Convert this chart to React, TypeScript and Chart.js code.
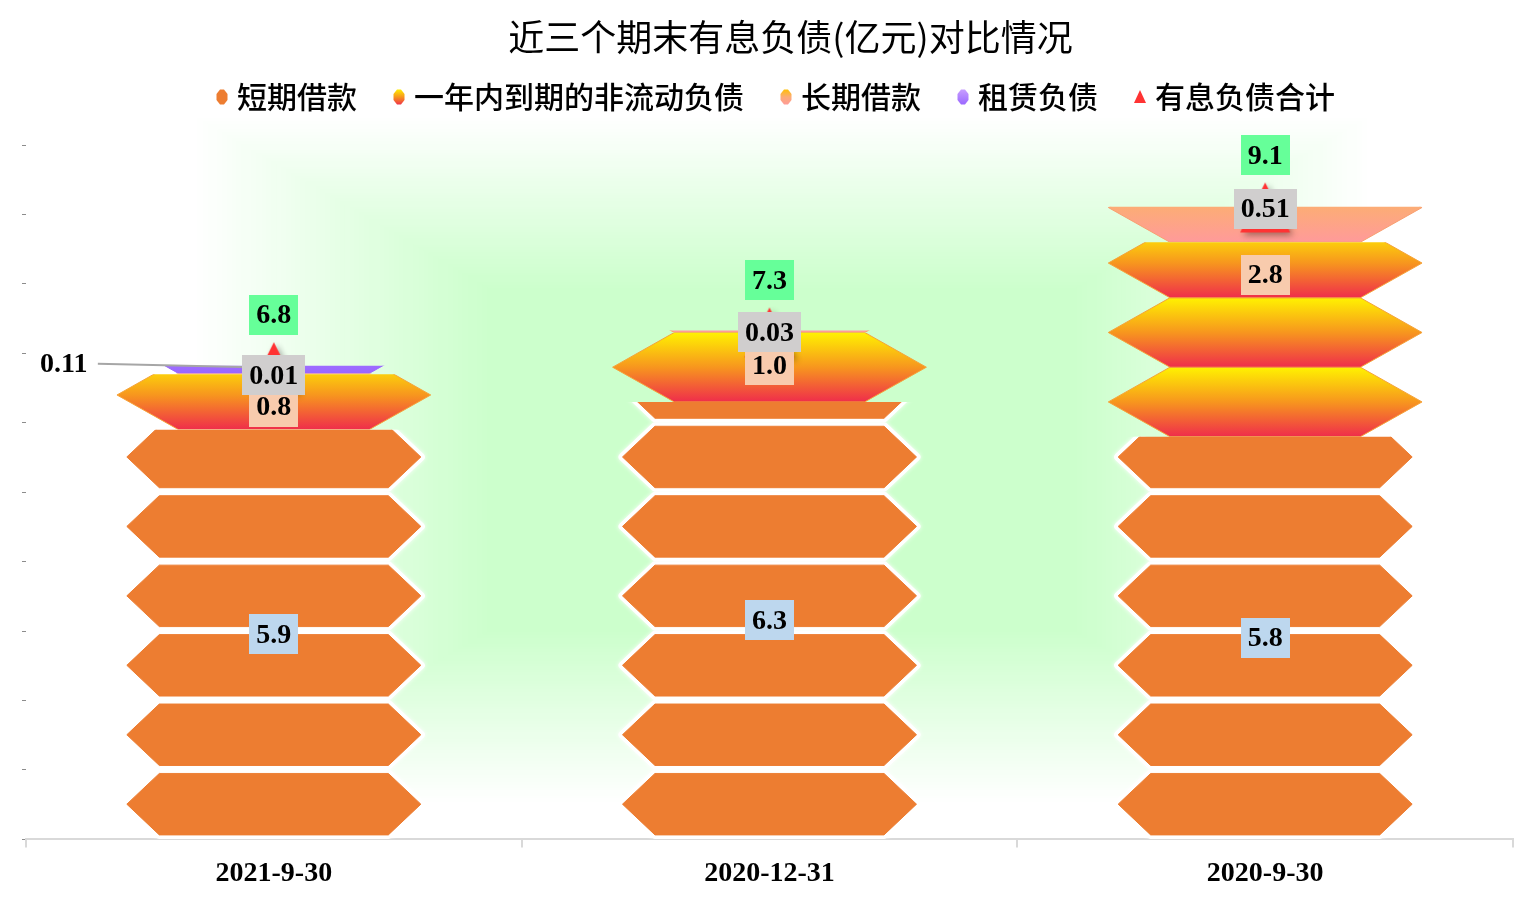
import { useEffect, useRef } from 'react'
import { Chart, registerables } from 'chart.js'

Chart.register(...registerables)

// chart data (亿元)
const categories = ['2021-9-30', '2020-12-31', '2020-9-30']
const shortTermLoans = [5.9, 6.3, 5.8]
const currentPortion = [0.8, 1.0, 2.8]
const longTermLoans = [0.01, 0.03, 0.51]
const leaseLiabilities = [0.11, 0, 0]
const totalDebt = [6.8, 7.3, 9.1]
const seriesNames = ['短期借款', '一年内到期的非流动负债', '长期借款', '租赁负债', '有息负债合计']

const TITLE = '近三个期末有息负债(亿元)对比情况'
const SERIF = '"Liberation Serif", "Times New Roman", serif'
const CJK = '"Noto Sans CJK SC", sans-serif'
const LABEL_FONT = `bold 28px ${SERIF}`

interface HexStyle {
  widest: number
  flat: number
  pad: number
  stops: [number, string][]
  edge: string
  halo: boolean
}

// picture style of each stacked series (hexagon "stack" fill)
const hexStyles: HexStyle[] = [
  { widest: 0.937, flat: 0.73, pad: 4, stops: [[0, '#ED7D31'], [1, '#ED7D31']], edge: '#ED7D31', halo: true },
  { widest: 1, flat: 0.607, pad: 0, stops: [[0, '#FFF200'], [0.5, '#F7961E'], [1, '#EF2D4B']], edge: '#F5A33A', halo: false },
  { widest: 1, flat: 0.607, pad: 0, stops: [[0, '#FFC000'], [0.5, '#FCAC76'], [1, '#FF9A9A']], edge: '#F8A070', halo: false },
  { widest: 1, flat: 0.607, pad: 0, stops: [[0, '#C9A0FF'], [1, '#9966FF']], edge: '#9966FF', halo: false },
]

const TOTAL_RED = '#FF3333'

function hexPath(ctx: CanvasRenderingContext2D, cx: number, top: number, bottom: number, hw: number, hf: number) {
  const mid = (top + bottom) / 2
  ctx.beginPath()
  ctx.moveTo(cx - hf, top)
  ctx.lineTo(cx + hf, top)
  ctx.lineTo(cx + hw, mid)
  ctx.lineTo(cx + hf, bottom)
  ctx.lineTo(cx - hf, bottom)
  ctx.lineTo(cx - hw, mid)
  ctx.closePath()
}

function makeTriangle(size: number) {
  const m = 10
  const c = document.createElement('canvas')
  c.width = size + m * 2
  c.height = size + m * 2
  const g = c.getContext('2d')!
  g.shadowColor = 'rgba(0,0,0,0.35)'
  g.shadowBlur = 6
  g.shadowOffsetX = 3
  g.shadowOffsetY = 3
  g.fillStyle = TOTAL_RED
  g.beginPath()
  g.moveTo(m + size / 2, m)
  g.lineTo(m + size, m + size)
  g.lineTo(m, m + size)
  g.closePath()
  g.fill()
  return c
}

// legend icons: drawn in the right half so the gap to the text is small
function makeLegendIcon(i: number) {
  const c = document.createElement('canvas')
  c.width = 24
  c.height = 16
  const g = c.getContext('2d')!
  if (i === 4) {
    g.fillStyle = TOTAL_RED
    g.beginPath()
    g.moveTo(18, 1)
    g.lineTo(24, 14)
    g.lineTo(12, 14)
    g.closePath()
    g.fill()
    return c
  }
  const grad = g.createLinearGradient(0, 0, 0, 16)
  hexStyles[i].stops.forEach(([o, col]) => grad.addColorStop(o, col))
  g.fillStyle = grad
  g.beginPath()
  g.moveTo(16, 0.5)
  g.lineTo(20, 0.5)
  g.lineTo(23.5, 5)
  g.lineTo(23.5, 11)
  g.lineTo(20, 15.5)
  g.lineTo(16, 15.5)
  g.lineTo(12.5, 11)
  g.lineTo(12.5, 5)
  g.closePath()
  g.fill()
  return c
}

function drawTag(ctx: CanvasRenderingContext2D, text: string, cx: number, cy: number, bg: string) {
  ctx.font = LABEL_FONT
  const w = ctx.measureText(text).width + 14
  ctx.fillStyle = bg
  ctx.fillRect(Math.round(cx - w / 2), Math.round(cy - 20), Math.round(w), 40)
  ctx.fillStyle = '#000'
  ctx.textAlign = 'center'
  ctx.textBaseline = 'middle'
  ctx.fillText(text, cx, cy + 1)
}

const glowPlugin = {
  id: 'glow',
  beforeDraw(chart: any) {
    const { ctx, chartArea: a, width, height } = chart
    ctx.save()
    ctx.fillStyle = '#fff'
    ctx.fillRect(0, 0, width, height)
    const w = a.right - a.left
    const L0 = a.left + w * 0.112
    const R0 = a.left + w * 0.905
    const T0 = a.top - 30
    const B0 = a.bottom - 35
    const cx = (L0 + R0) / 2
    const cy = (T0 + B0) / 2
    const steps = 60
    for (let s = 0; s <= steps; s++) {
      const t = (s / steps) * 0.5
      const k = t / 0.5
      const v = 255 - Math.round(51 * k)
      ctx.fillStyle = `rgb(${v},255,${v})`
      ctx.fillRect(L0 + (cx - L0) * t, T0 + (cy - T0) * t, (R0 - L0) * (1 - t), (B0 - T0) * (1 - t))
    }
    ctx.restore()
  },
}

const hexPlugin = {
  id: 'hexStack',
  afterDatasetDraw(chart: any, args: any) {
    const meta = args.meta
    if (meta.type !== 'bar') return
    const style = hexStyles[args.index]
    const ctx: CanvasRenderingContext2D = chart.ctx
    const yScale = chart.scales.y
    const unit = yScale.getPixelForValue(0) - yScale.getPixelForValue(1)
    meta.data.forEach((el: any) => {
      const { x, y, base, width } = el.getProps(['x', 'y', 'base', 'width'], true)
      const top = Math.min(y, base)
      const bottom = Math.max(y, base)
      if (bottom - top < 0.5) return
      ctx.save()
      ctx.beginPath()
      ctx.rect(x - width, top, width * 2, bottom - top)
      ctx.clip()
      const count = Math.ceil((bottom - top) / unit - 0.001)
      for (let i = 0; i < count; i++) {
        const hb = bottom - i * unit - style.pad
        const ht = bottom - (i + 1) * unit + style.pad
        hexPath(ctx, x, ht, hb, (width / 2) * style.widest, (width / 2) * style.flat)
        if (style.halo) {
          ctx.save()
          ctx.strokeStyle = '#fff'
          ctx.lineWidth = 8
          ctx.lineJoin = 'round'
          ctx.shadowColor = 'rgba(255,255,255,0.9)'
          ctx.shadowBlur = 4
          ctx.stroke()
          ctx.restore()
        }
        const grad = ctx.createLinearGradient(0, ht, 0, hb)
        style.stops.forEach(([o, c]) => grad.addColorStop(o, c))
        ctx.fillStyle = grad
        ctx.fill()
        ctx.strokeStyle = style.edge
        ctx.lineWidth = 1
        ctx.stroke()
      }
      ctx.restore()
    })
  },
}

const labelPlugin = {
  id: 'valueTags',
  afterDatasetsDraw(chart: any) {
    const ctx: CanvasRenderingContext2D = chart.ctx
    ctx.save()

    // lease liabilities: callout to the left with a leader line
    chart.getDatasetMeta(3).data.forEach((el: any, i: number) => {
      const v = leaseLiabilities[i]
      if (!v) return
      const { x, y, base } = el.getProps(['x', 'y', 'base'], true)
      const cy = (y + base) / 2
      const tx = x - 210
      ctx.strokeStyle = '#A6A6A6'
      ctx.lineWidth = 2
      ctx.beginPath()
      ctx.moveTo(tx + 34, cy - 6)
      ctx.lineTo(x, cy - 2)
      ctx.stroke()
      ctx.font = LABEL_FONT
      ctx.fillStyle = '#000'
      ctx.textAlign = 'center'
      ctx.textBaseline = 'middle'
      ctx.fillText(v.toFixed(2), tx, cy - 5)
    })

    chart.getDatasetMeta(0).data.forEach((el: any, i: number) => {
      const { x, y, base } = el.getProps(['x', 'y', 'base'], true)
      drawTag(ctx, shortTermLoans[i].toFixed(1), x, (y + base) / 2, '#BDD7EE')
    })
    chart.getDatasetMeta(1).data.forEach((el: any, i: number) => {
      const { x, y } = el.getProps(['x', 'y'], true)
      drawTag(ctx, currentPortion[i].toFixed(1), x, y + 33, '#F8CBAD')
    })
    chart.getDatasetMeta(2).data.forEach((el: any, i: number) => {
      const { x, y } = el.getProps(['x', 'y'], true)
      drawTag(ctx, longTermLoans[i].toFixed(2), x, y + 2, '#D0CECE')
    })
    chart.getDatasetMeta(4).data.forEach((el: any, i: number) => {
      const { x, y } = el.getProps(['x', 'y'], true)
      drawTag(ctx, totalDebt[i].toFixed(1), x, y - 52, '#66FF99')
    })
    ctx.restore()
  },
}

const titlePlugin = {
  id: 'mainTitle',
  afterDraw(chart: any) {
    const ctx: CanvasRenderingContext2D = chart.ctx
    ctx.save()
    ctx.font = `36px ${CJK}`
    ctx.fillStyle = '#000'
    ctx.textAlign = 'center'
    ctx.textBaseline = 'middle'
    ctx.fillText(TITLE, chart.width / 2 + 21, 37)
    ctx.restore()
  },
}

export default function App() {
  const canvasRef = useRef<HTMLCanvasElement>(null)
  const chartRef = useRef<Chart | null>(null)

  useEffect(() => {
    document.body.style.margin = '0'
    document.body.style.overflow = 'hidden'
    if (!canvasRef.current) return

    const triangle = makeTriangle(50)
    const legendIcons = seriesNames.map((_, i) => makeLegendIcon(i))
    const barValues = [shortTermLoans, currentPortion, longTermLoans, leaseLiabilities]

    const barSets = barValues.map((data, i) => ({
      type: 'bar',
      label: seriesNames[i],
      data,
      stack: 'debt',
      backgroundColor: 'rgba(0,0,0,0)',
      borderWidth: 0,
      barPercentage: 0.633,
      categoryPercentage: 1,
    }))

    chartRef.current = new Chart(canvasRef.current, {
      type: 'bar',
      data: {
        labels: categories,
        datasets: [
          ...barSets,
          {
            type: 'line',
            label: seriesNames[4],
            data: totalDebt,
            stack: 'total',
            showLine: false,
            pointStyle: triangle,
            pointRadius: 25,
            pointBackgroundColor: TOTAL_RED,
            order: -1,
          },
        ] as any,
      },
      options: {
        responsive: false,
        animation: false,
        events: [],
        layout: { padding: { top: 52, left: 18, right: 12, bottom: 0 } },
        plugins: {
          title: { display: false },
          subtitle: {
            // spacer between legend and plot area
            display: true,
            text: '',
            font: { size: 10 },
            padding: { top: 11, bottom: 0 },
            position: 'top',
            weight: 500,
          } as any,
          tooltip: { enabled: false },
          legend: {
            position: 'top',
            labels: {
              usePointStyle: true,
              boxWidth: 12,
              boxHeight: 16,
              padding: 30,
              color: '#000',
              font: { family: CJK, size: 30, weight: '500' },
              generateLabels: () =>
                seriesNames.map((name, i) => ({
                  text: name,
                  pointStyle: legendIcons[i],
                  fillStyle: 'rgba(0,0,0,0)',
                  strokeStyle: 'rgba(0,0,0,0)',
                  lineWidth: 0,
                  hidden: false,
                  datasetIndex: i,
                  fontColor: '#000',
                })) as any,
            },
          },
        },
        scales: {
          x: {
            stacked: true,
            grid: { drawOnChartArea: false, drawTicks: true, tickLength: 8, color: '#D9D9D9', lineWidth: 2 },
            border: { display: true, color: '#D9D9D9', width: 2 },
            ticks: {
              color: '#000',
              padding: 10,
              maxRotation: 0,
              autoSkip: false,
              font: { family: SERIF, size: 28, weight: 'bold' },
            },
          },
          y: {
            stacked: true,
            min: 0,
            max: 10,
            ticks: { display: false, stepSize: 1 },
            grid: { drawOnChartArea: false, drawTicks: true, tickLength: 4, color: '#8C8C8C' },
            border: { display: false },
          },
          // empty right-hand strip so the plot ends where the reference's does
          yRight: {
            position: 'right',
            display: true,
            ticks: { display: false },
            grid: { drawOnChartArea: false, drawTicks: true, tickLength: 12, color: 'rgba(0,0,0,0)' },
            border: { display: false },
          },
        },
      },
      plugins: [glowPlugin, hexPlugin, labelPlugin, titlePlugin] as any,
    })

    return () => {
      if (chartRef.current) {
        chartRef.current.destroy()
        chartRef.current = null
      }
    }
  }, [])

  return (
    <div style={{ width: 1539, height: 901, background: '#fff' }}>
      <canvas ref={canvasRef} width={1539} height={901} style={{ display: 'block', width: 1539, height: 901 }}></canvas>
    </div>
  )
}
